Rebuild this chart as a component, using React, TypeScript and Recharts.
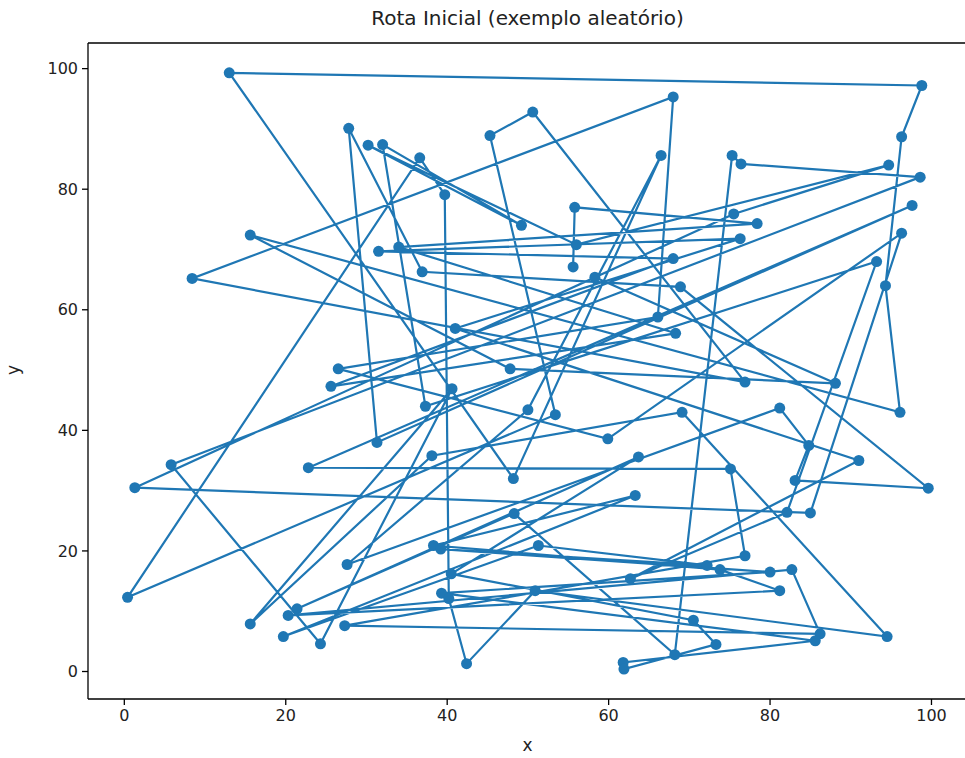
import { Line, LineChart, ReferenceLine, XAxis, YAxis } from "recharts";

// route order (x, y of each visited city)
const routeX = [
  58.3, 88.1, 47.8, 15.6, 96.1, 94.3, 96.3, 98.8, 13.0, 48.2,
  66.5, 50.0, 27.6, 81.2, 84.8, 83.1, 99.6, 68.9, 36.9, 27.8,
  31.3, 97.6, 22.8, 75.1, 76.9, 27.3, 86.2, 82.7, 20.3, 81.2,
  73.8, 38.3, 63.3, 19.7, 51.3, 72.2, 39.2, 80.0, 39.3, 85.6,
  61.8, 61.9, 73.3, 70.5, 40.5, 63.7, 21.4, 48.3, 68.2, 75.3,
  76.4, 98.6, 5.8, 24.3, 40.6, 15.6, 38.1, 69.1, 94.5, 50.9,
  42.4, 40.2, 39.7, 36.6, 0.4, 53.4, 45.3, 50.6, 76.9, 8.4,
  68.0, 66.1, 26.5, 59.9, 96.3, 85.0, 1.3, 75.5, 94.7, 56.0,
  30.2, 49.2, 32.0, 37.3, 93.2, 82.1, 62.7, 91.0, 41.0, 76.3,
  31.5, 68.0, 25.6, 68.3, 34.0, 78.4, 55.8, 55.6,
];
const routeY = [
  65.4, 47.8, 50.2, 72.4, 43.0, 64.0, 88.7, 97.2, 99.3, 32.0,
  85.6, 43.4, 17.75, 43.7, 37.5, 31.7, 30.4, 63.8, 66.3, 90.1,
  38.0, 77.3, 33.8, 33.6, 19.2, 7.6, 6.25, 16.9, 9.3, 13.4,
  16.9, 20.9, 29.2, 5.8, 20.9, 17.6, 20.3, 16.5, 13.0, 5.1,
  1.5, 0.4, 4.5, 8.5, 16.2, 35.6, 10.4, 26.2, 2.8, 85.6,
  84.2, 82.0, 34.3, 4.6, 46.9, 7.9, 35.8, 43.0, 5.8, 13.4,
  1.3, 12.1, 79.1, 85.2, 12.3, 42.6, 88.9, 92.8, 48.0, 65.2,
  95.3, 58.8, 50.2, 38.6, 72.7, 26.3, 30.5, 75.9, 84.0, 70.8,
  87.3, 74.0, 87.4, 44.0, 68.0, 26.4, 15.4, 35.0, 56.9, 71.8,
  69.7, 68.5, 47.3, 56.1, 70.4, 74.3, 77.0, 67.1,
];
const xTicks = [0, 20, 40, 60, 80, 100];
const yTicks = [0, 20, 40, 60, 80, 100];

const route = routeX.map((x, i) => ({ x, y: routeY[i] }));

const font = "'DejaVu Sans', sans-serif";
const ink = "#222";

export default function App() {
  return (
    <div style={{ position: "absolute", left: 0, top: 0, width: 965, height: 758, background: "#fff", fontFamily: font }}>
      <div style={{ position: "absolute", left: 88, width: 879, top: 6, textAlign: "center", fontSize: 20, color: ink }}>
        Rota Inicial (exemplo aleatório)
      </div>
      <div style={{ position: "absolute", left: 0, width: 965 + 90, top: 735, textAlign: "center", fontSize: 17, color: ink }}>
        x
      </div>
      <div
        style={{
          position: "absolute",
          left: 8,
          top: 360,
          fontSize: 17,
          color: ink,
          transform: "rotate(-90deg)",
        }}
      >
        y
      </div>
      <LineChart width={965} height={758} data={route} margin={{ top: 43, right: -2, bottom: 19, left: 38 }}>
        <XAxis
          type="number"
          dataKey="x"
          domain={[-4.5, 104.4]}
          ticks={xTicks}
          height={40}
          tickSize={6}
          tickMargin={5}
          tick={{ fontSize: 16, fill: ink, fontFamily: font }}
          axisLine={{ stroke: "#000", strokeWidth: 1.3 }}
          tickLine={{ stroke: "#000", strokeWidth: 1.3 }}
          allowDataOverflow
        />
        <YAxis
          type="number"
          dataKey="y"
          domain={[-4.56, 104.25]}
          ticks={yTicks}
          width={50}
          tickSize={6}
          tickMargin={4}
          tick={{ fontSize: 16, fill: ink, fontFamily: font }}
          axisLine={{ stroke: "#000", strokeWidth: 1.3 }}
          tickLine={{ stroke: "#000", strokeWidth: 1.3 }}
          allowDataOverflow
        />
        <ReferenceLine y={104.25} stroke="#000" strokeWidth={1.3} />
        <Line
          type="linear"
          dataKey="y"
          stroke="#1f77b4"
          strokeWidth={2.2}
          dot={{ r: 5.5, fill: "#1f77b4", stroke: "#1f77b4", strokeWidth: 0 }}
          activeDot={false}
          isAnimationActive={false}
        />
      </LineChart>
    </div>
  );
}
